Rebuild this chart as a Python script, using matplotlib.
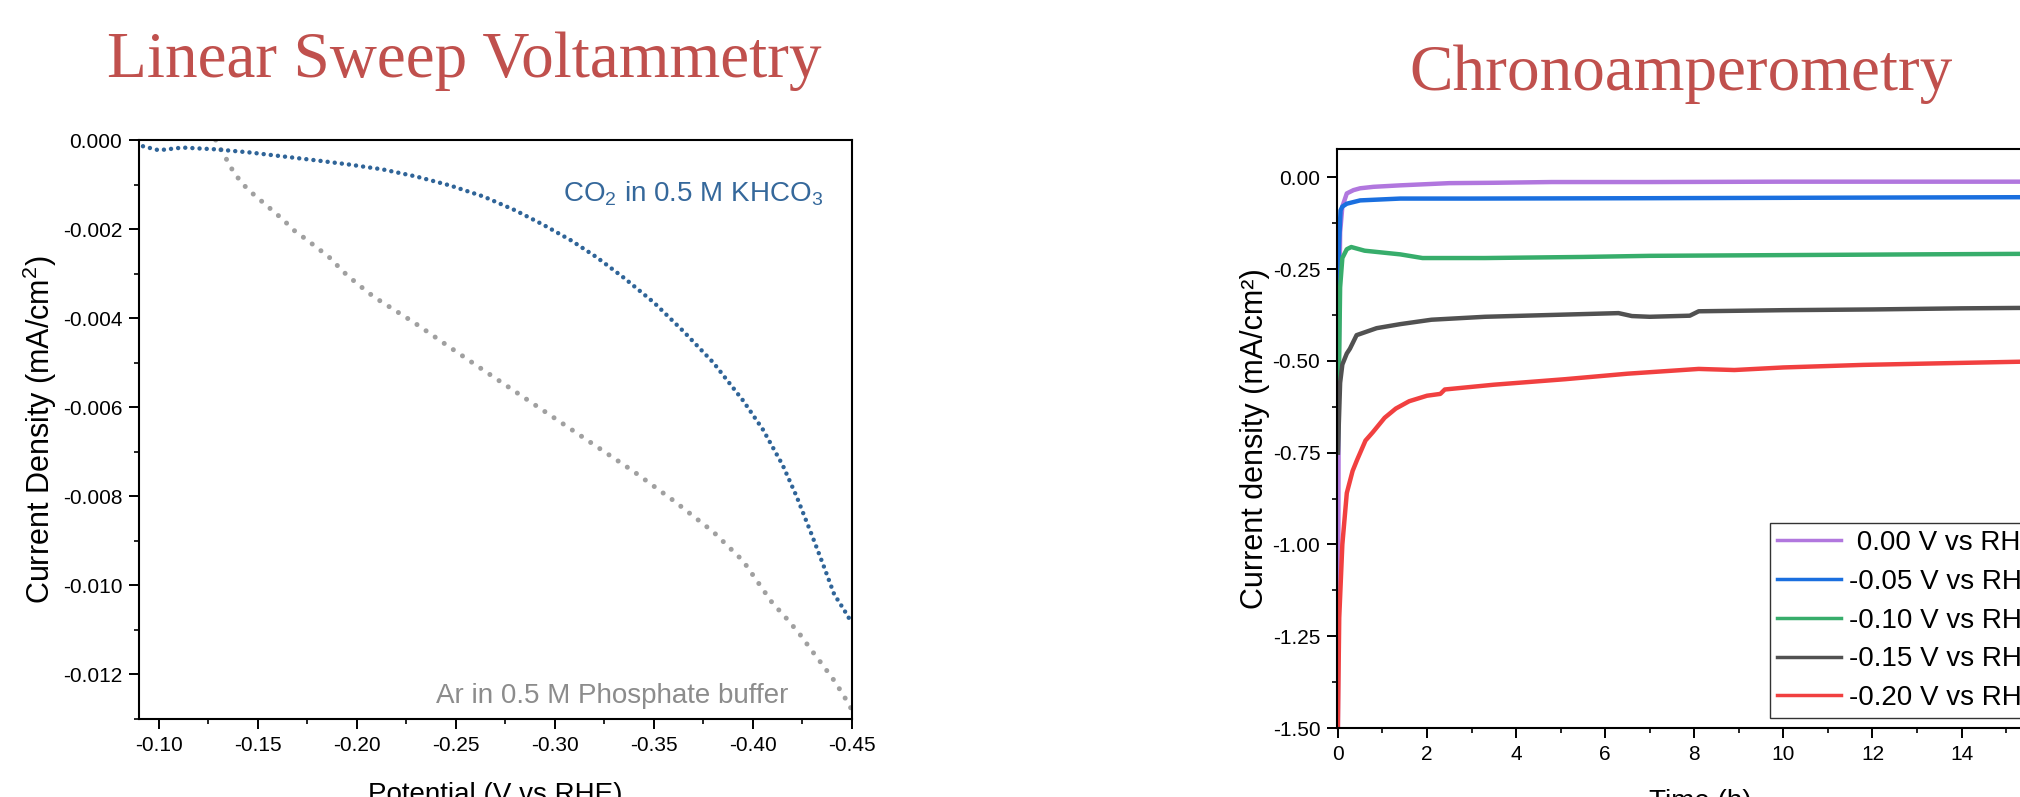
import numpy as np
import matplotlib
matplotlib.use('Agg')
import matplotlib.pyplot as plt
from matplotlib.ticker import MultipleLocator, FormatStrFormatter

plt.rcParams['font.family'] = ['Liberation Sans', 'DejaVu Sans']
plt.rcParams['mathtext.default'] = 'regular'
plt.rcParams['axes.unicode_minus'] = False

W, H = 2020, 797

# ---- Linear sweep voltammetry (potential V vs RHE, current density mA/cm2 x1e-3)
co2_v = [-0.092, -0.100, -0.112, -0.129, -0.146, -0.163, -0.180, -0.196, -0.213,
         -0.230, -0.247, -0.264, -0.280, -0.294, -0.308, -0.321, -0.335, -0.350,
         -0.365, -0.380, -0.395, -0.405, -0.415, -0.422, -0.430, -0.436, -0.441,
         -0.446, -0.450]
co2_j = [-0.14, -0.23, -0.17, -0.21, -0.28, -0.37, -0.46, -0.55, -0.66,
         -0.82, -1.02, -1.27, -1.58, -1.90, -2.25, -2.63, -3.10, -3.65,
         -4.30, -5.00, -5.85, -6.50, -7.30, -8.00, -8.90, -9.60, -10.20,
         -10.55, -10.85]

ar_v = [-0.1287, -0.1303, -0.1342, -0.1375, -0.1418, -0.146, -0.151, -0.156,
        -0.1628, -0.168, -0.1747, -0.1814, -0.1865, -0.1932, -0.200, -0.2085,
        -0.2152, -0.2219, -0.2286, -0.2371, -0.2455, -0.26, -0.28, -0.30,
        -0.32, -0.34, -0.36, -0.38, -0.395, -0.4094, -0.412, -0.4177, -0.4237,
        -0.4303, -0.4354, -0.4404, -0.4455, -0.450]
ar_j = [0.0, -0.135, -0.435, -0.70, -0.96, -1.15, -1.34, -1.53,
        -1.79, -2.02, -2.24, -2.47, -2.65, -2.96, -3.22, -3.52,
        -3.71, -3.90, -4.09, -4.35, -4.61, -5.05, -5.65, -6.25,
        -6.85, -7.45, -8.10, -8.80, -9.45, -10.37, -10.5, -10.78, -11.1,
        -11.5, -11.8, -12.1, -12.45, -12.8]

# ---- Chronoamperometry (time h, current density mA/cm2)
ca_labels = [' 0.00 V vs RHE', '-0.05 V vs RHE', '-0.10 V vs RHE',
             '-0.15 V vs RHE', '-0.20 V vs RHE']
ca_colors = ['#B177DE', '#1A6FDF', '#37AD6B', '#515151', '#F14040']

t_000 = [0, 0.02, 0.05, 0.1, 0.2, 0.35, 0.5, 0.8, 1.4, 2.5, 3.5, 4.8, 7, 10, 13, 16.3]
j_000 = [-1.5, -0.5, -0.15, -0.08, -0.044, -0.035, -0.03, -0.026, -0.022, -0.016,
         -0.015, -0.013, -0.013, -0.012, -0.012, -0.012]

t_005 = [0, 0.02, 0.06, 0.1, 0.2, 0.5, 1.4, 3, 7, 10, 13, 16.3]
j_005 = [-0.55, -0.2, -0.09, -0.08, -0.072, -0.063, -0.058, -0.058, -0.057,
         -0.056, -0.055, -0.054]

t_010 = [0, 0.05, 0.1, 0.2, 0.3, 0.6, 1.0, 1.4, 1.9, 3.3, 5.5, 7, 10, 13, 16.3]
j_010 = [-0.75, -0.3, -0.22, -0.196, -0.19, -0.2, -0.205, -0.21, -0.22, -0.22,
         -0.217, -0.214, -0.212, -0.21, -0.208]

t_015 = [0, 0.05, 0.1, 0.2, 0.27, 0.42, 0.87, 1.4, 2.1, 3.3, 4.8, 6.3, 6.6, 7.0,
         7.9, 8.1, 10, 12, 14, 16.3]
j_015 = [-0.75, -0.56, -0.51, -0.48, -0.467, -0.43, -0.411, -0.40, -0.388, -0.38,
         -0.375, -0.37, -0.378, -0.38, -0.377, -0.365, -0.362, -0.36, -0.357, -0.355]

t_020 = [0, 0.03, 0.1, 0.2, 0.33, 0.43, 0.62, 0.78, 1.05, 1.3, 1.6, 2.0, 2.3, 2.4,
         3.5, 5.1, 6.5, 8.1, 8.9, 10, 11.8, 13.4, 16.3]
j_020 = [-1.5, -1.2, -1.0, -0.86, -0.80, -0.77, -0.717, -0.695, -0.655, -0.63,
         -0.61, -0.595, -0.59, -0.578, -0.565, -0.55, -0.535, -0.522, -0.525,
         -0.518, -0.511, -0.507, -0.50]

ca_t = [t_000, t_005, t_010, t_015, t_020]
ca_j = [j_000, j_005, j_010, j_015, j_020]


def fx(px):
    return px / W


def fy(py):
    return 1 - py / H


fig = plt.figure(figsize=(W / 100, H / 100), dpi=100)

title_kw = dict(family=['Liberation Serif', 'DejaVu Serif'], color='#C0504D',
                fontsize=47, ha='center', va='baseline')
fig.text(fx(464), fy(77), 'Linear Sweep Voltammetry', **title_kw)
fig.text(fx(1681), fy(90), 'Chronoamperometry', **title_kw)


def style_axes(ax):
    for s in ax.spines.values():
        s.set_linewidth(1.5)
    ax.tick_params(which='major', direction='out', length=7, width=1.4,
                   labelsize=15, pad=5, top=False, right=False)
    ax.tick_params(which='minor', direction='out', length=3.5, width=1.2,
                   top=False, right=False)


# left panel
ax1 = fig.add_axes([fx(139), fy(719), fx(852 - 139), (719 - 140) / H])
ax1.plot(np.array(ar_v), np.array(ar_j) * 1e-3, color='#A0A0A0', lw=3.6,
         ls=(0, (0.01, 2.2)), dash_capstyle='round')
ax1.plot(np.array(co2_v), np.array(co2_j) * 1e-3, color='#2F6498', lw=3.2,
         ls=(0, (0.01, 1.6)), dash_capstyle='round')
ax1.set_xlim(-0.09, -0.45)
ax1.set_ylim(-0.013, 0)
ax1.xaxis.set_major_locator(MultipleLocator(0.05))
ax1.xaxis.set_minor_locator(MultipleLocator(0.025))
ax1.yaxis.set_major_locator(MultipleLocator(0.002))
ax1.yaxis.set_minor_locator(MultipleLocator(0.001))
ax1.xaxis.set_major_formatter(FormatStrFormatter('%.2f'))
ax1.yaxis.set_major_formatter(FormatStrFormatter('%.3f'))
style_axes(ax1)
ax1.set_xlabel('Potential (V vs RHE)', fontsize=20, labelpad=20)
ax1.set_ylabel('Current Density (mA/cm$^2$)', fontsize=22, labelpad=3)
ax1.text((823 - 139) / (852 - 139), (719 - 202) / (719 - 140),
         'CO$_2$ in 0.5 M KHCO$_3$', transform=ax1.transAxes, fontsize=20,
         color='#35689B', ha='right', va='baseline')
ax1.text((788 - 139) / (852 - 139), (719 - 703) / (719 - 140),
         'Ar in 0.5 M Phosphate buffer', transform=ax1.transAxes, fontsize=20,
         color='#8C8C8C', ha='right', va='baseline')

# right panel
ax2 = fig.add_axes([fx(1337), fy(728), fx(2064 - 1337), (728 - 149) / H])
for t, j, c, lab in zip(ca_t, ca_j, ca_colors, ca_labels):
    ax2.plot(t, j, color=c, lw=3.2, label=lab)
ax2.set_xlim(-0.02, 16.3)
ax2.set_ylim(-1.5, 0.077)
ax2.xaxis.set_major_locator(MultipleLocator(2))
ax2.xaxis.set_minor_locator(MultipleLocator(1))
ax2.yaxis.set_major_locator(MultipleLocator(0.25))
ax2.yaxis.set_minor_locator(MultipleLocator(0.125))
ax2.yaxis.set_major_formatter(FormatStrFormatter('%.2f'))
style_axes(ax2)
ax2.set_xlabel('Time (h)', fontsize=20, labelpad=18)
ax2.set_ylabel('Current density (mA/cm²)', fontsize=22, labelpad=2)
leg = ax2.legend(loc='upper left', bbox_to_anchor=(fx(1770), fy(523)),
                 bbox_transform=fig.transFigure, fontsize=20, frameon=True,
                 fancybox=False, borderpad=0.25, labelspacing=0.46,
                 handlelength=2.3, handletextpad=0.3, borderaxespad=0)
leg.get_frame().set_edgecolor('black')
leg.get_frame().set_linewidth(1.0)
for ln in leg.get_lines():
    ln.set_linewidth(2.5)

fig.savefig('out.png', dpi=100)
